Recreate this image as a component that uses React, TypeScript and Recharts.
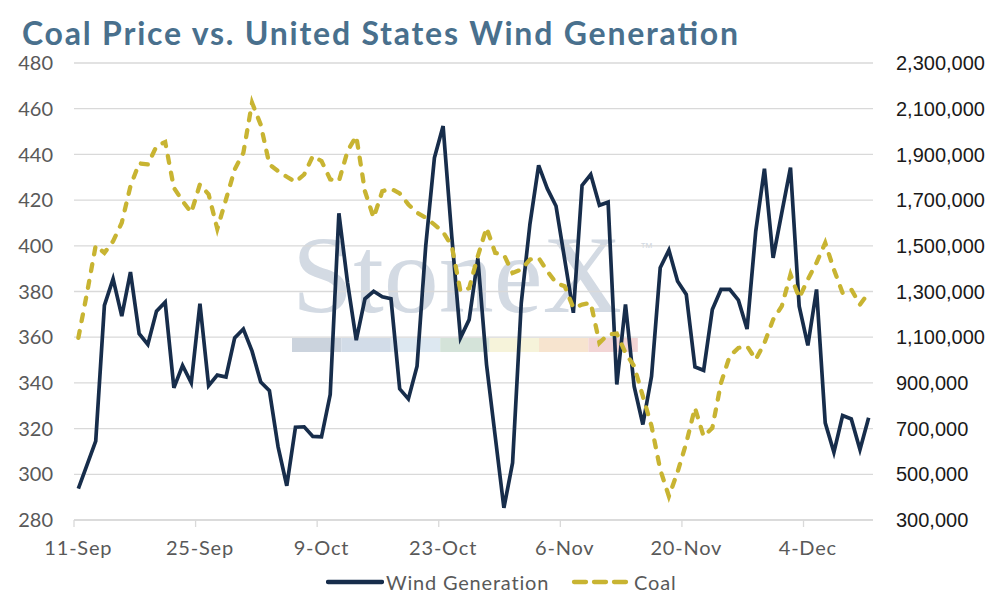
import { LineChart, Line, XAxis, YAxis, CartesianGrid } from "recharts";

const TITLE = "Coal Price vs. United States Wind Generation";

const MONTH_NAMES = ["Jan", "Feb", "Mar", "Apr", "May", "Jun", "Jul", "Aug", "Sep", "Oct", "Nov", "Dec"];

// daily, 11-Sep to 11-Dec
const dayLabels: string[] = [];
{
  const d = new Date(2022, 8, 11, 12);
  for (let i = 0; i < 92; i++) {
    dayLabels.push(`${d.getDate()}-${MONTH_NAMES[d.getMonth()]}`);
    d.setDate(d.getDate() + 1);
  }
}

// MWh, right axis
const windGeneration = [
  437000, 541000, 645000, 1239000, 1355000, 1192000, 1385000, 1115000, 1068000, 1214000,
  1253000, 878000, 976000, 900000, 1247000, 888000, 934000, 926000, 1097000, 1136000,
  1039000, 904000, 866000, 620000, 450000, 706000, 708000, 666000, 664000, 849000,
  1642000, 1338000, 1087000, 1268000, 1301000, 1277000, 1268000, 874000, 830000, 973000,
  1500000, 1885000, 2024000, 1540000, 1097000, 1177000, 1445000, 980000, 666000, 353000,
  550000, 1250000, 1596000, 1852000, 1750000, 1674000, 1440000, 1207000, 1764000, 1812000,
  1677000, 1691000, 893000, 1243000, 885000, 718000, 929000, 1404000, 1481000, 1345000,
  1287000, 970000, 955000, 1221000, 1309000, 1309000, 1262000, 1136000, 1564000, 1837000,
  1447000, 1645000, 1842000, 1236000, 1064000, 1309000, 725000, 596000, 757000, 742000,
  608000, 747000,
];

// price, left axis
const coal = [
  359.7, 379.4, 400.1, 396.9, 402, 410.1, 426.1, 436.1, 435.6, 443.6,
  445.4, 425.4, 419.6, 414.5, 426.9, 422.5, 407.4, 420.3, 433.4, 440.7,
  462.6, 453, 435.6, 432.7, 430.2, 427.9, 431.2, 439.3, 437.1, 429.1,
  428.3, 441.5, 448, 423.9, 412.3, 423.9, 425, 422.9, 418.1, 414.5,
  412.3, 409.3, 406, 399.9, 380.1, 381.5, 395.5, 407.9, 396.9, 396.1,
  388.1, 389.6, 394, 394.7, 388.9, 383.8, 382.3, 372.8, 374.3, 375,
  357.5, 361.2, 361.6, 353.1, 347.3, 334.2, 321.1, 302.1, 290.4, 301,
  313.7, 329.1, 316.6, 320.3, 340, 351.7, 355.3, 356.1, 350.2, 357.5,
  367.7, 373.6, 387.4, 377.2, 385.3, 392.6, 401.3, 389.6, 379.4, 380.9,
  374.3, 379.4,
];

const leftTicks = [280, 300, 320, 340, 360, 380, 400, 420, 440, 460, 480];
const rightTicks = [300000, 500000, 700000, 900000, 1100000, 1300000, 1500000, 1700000, 1900000, 2100000, 2300000];

const watermarkColors = ["#cbd3dd", "#d2dce8", "#dde8f1", "#d4e3d9", "#f6f3da", "#f7e4cf", "#f2d5d5"];

const chartData = dayLabels.map((day, i) => ({
  day,
  wind: windGeneration[i],
  coal: coal[i],
}));

const NAVY = "#172d4b";
const GOLD = "#c8b432";
const GRID = "#d9d9d9";
const HALF_BAND = 4.35;

function DateTick(props: any) {
  const { x, y, payload } = props;
  return (
    <g>
      <line x1={x - HALF_BAND} x2={x - HALF_BAND} y1={y - 8} y2={y - 1} stroke={GRID} strokeWidth={1.3} />
      <text
        x={x}
        y={y + 27}
        textAnchor="middle"
        fill="#595959"
        fontSize={20}
        fontFamily="Lato"
        letterSpacing={0.8}
      >
        {payload.value}
      </text>
    </g>
  );
}

export default function App() {
  return (
    <div style={{ position: "absolute", left: 0, top: 0, width: 994, height: 600, background: "#fff" }}>
      <svg width={994} height={600} style={{ position: "absolute", left: 0, top: 0 }}>
        <text
          x={22}
          y={45}
          fontFamily="Lato"
          fontWeight={700}
          fontSize={32}
          fill="#49708d"
          textLength={716}
          lengthAdjust="spacing"
        >
          {TITLE}
        </text>
        <text x={292} y={312} fontFamily="Liberation Serif" fontSize={110} fill="#d3dae3">
          StoneX
        </text>
        <text x={640} y={252} fontFamily="Liberation Sans" fontSize={13} fill="#d3dae3">
          ™
        </text>
        {watermarkColors.map((c, i) => (
          <rect key={c} x={292 + i * 49.4} y={338} width={49.4} height={14} fill={c} />
        ))}
      </svg>
      <div style={{ position: "absolute", left: 0, top: 0 }}>
        <LineChart width={994} height={600} data={chartData} margin={{ top: 63, right: 0, bottom: 50, left: 0 }}>
          <CartesianGrid yAxisId="left" vertical={false} stroke={GRID} strokeWidth={1.3} />
          <XAxis
            dataKey="day"
            interval={13}
            height={30}
            padding={{ left: HALF_BAND, right: HALF_BAND }}
            axisLine={{ stroke: GRID, strokeWidth: 1.3 }}
            tickLine={false}
            tick={<DateTick />}
          />
          <YAxis
            yAxisId="left"
            width={74}
            domain={[280, 480]}
            ticks={leftTicks}
            axisLine={false}
            tickLine={false}
            tickMargin={15}
            tick={{ fill: "#595959", fontSize: 20, fontFamily: "Lato" }}
          />
          <YAxis
            yAxisId="right"
            orientation="right"
            width={121}
            domain={[300000, 2300000]}
            ticks={rightTicks}
            axisLine={false}
            tickLine={false}
            tickMargin={17}
            tickFormatter={(v: number) => v.toLocaleString("en-US")}
            tick={{ fill: "#1a1a1a", fontSize: 20, fontFamily: "Liberation Sans" }}
          />
          <Line
            yAxisId="right"
            dataKey="wind"
            stroke={NAVY}
            strokeWidth={3.7}
            dot={false}
            strokeLinejoin="miter"
            isAnimationActive={false}
          />
          <Line
            yAxisId="left"
            dataKey="coal"
            stroke={GOLD}
            strokeWidth={4.3}
            strokeDasharray="7 10"
            strokeLinecap="round"
            dot={false}
            isAnimationActive={false}
          />
        </LineChart>
      </div>
      <div
        style={{
          position: "absolute",
          left: 326,
          top: 570,
          display: "flex",
          alignItems: "center",
          fontFamily: "Lato",
          fontSize: 20,
          letterSpacing: 0.8,
          color: "#595959",
          whiteSpace: "nowrap",
        }}
      >
        <svg width={58} height={10}>
          <line x1={2} x2={56} y1={5} y2={5} stroke={NAVY} strokeWidth={4.3} strokeLinecap="round" />
        </svg>
        <span style={{ marginLeft: 2 }}>Wind Generation</span>
        <svg width={60} height={10} style={{ marginLeft: 22 }}>
          <line x1={3} x2={58} y1={5} y2={5} stroke={GOLD} strokeWidth={4.3} strokeDasharray="12 8" strokeLinecap="round" />
        </svg>
        <span style={{ marginLeft: 3 }}>Coal</span>
      </div>
    </div>
  );
}
